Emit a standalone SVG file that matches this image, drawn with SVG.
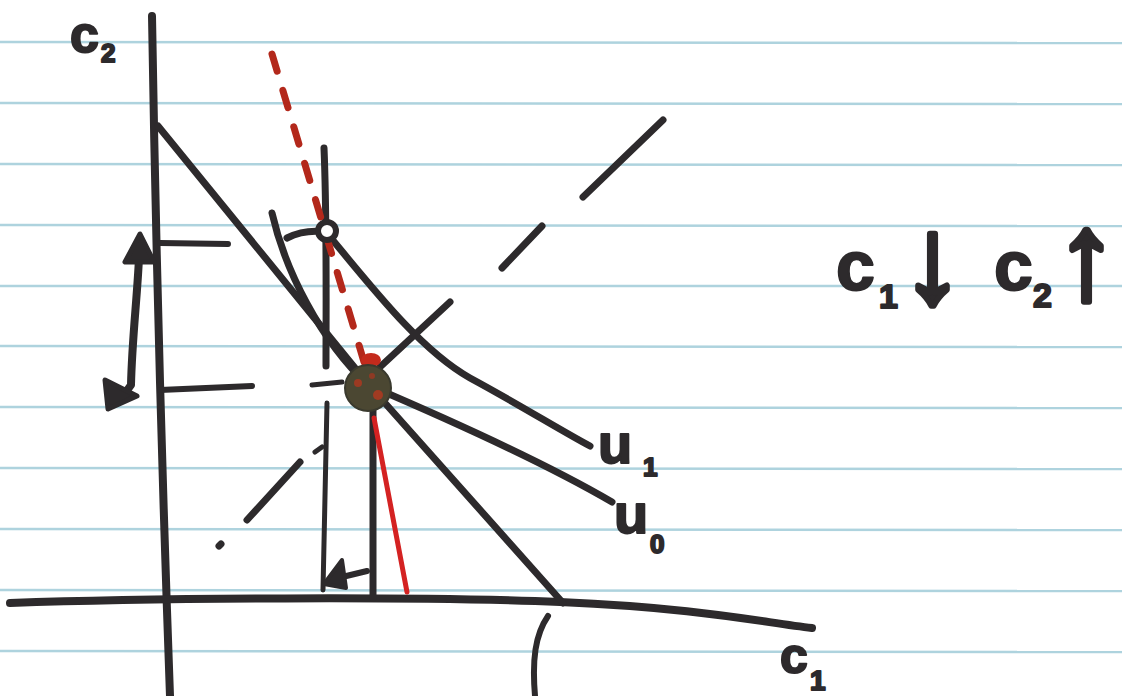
<svg xmlns="http://www.w3.org/2000/svg" width="1122" height="696" viewBox="0 0 1122 696">
<style>
.rule{stroke:#aed3de;stroke-width:2.5}
.ink{fill:none;stroke:#2d2a2c;stroke-linecap:round;stroke-linejoin:round}
.w8{stroke-width:8}.w7{stroke-width:7}.w6{stroke-width:6}.w5{stroke-width:5}
.lbl{font-family:"Liberation Sans","DejaVu Sans",sans-serif;font-weight:bold;fill:#2d2a2c;stroke:#2d2a2c;stroke-width:2;stroke-linejoin:round}
.arr{stroke-width:6}
</style>
<rect width="1122" height="696" fill="#ffffff"/>
<g id="paper">
<line class="rule" x1="0" y1="42" x2="1122" y2="43"/>
<line class="rule" x1="0" y1="103" x2="1122" y2="104"/>
<line class="rule" x1="0" y1="164" x2="1122" y2="165"/>
<line class="rule" x1="0" y1="225" x2="1122" y2="226"/>
<line class="rule" x1="0" y1="286" x2="1122" y2="286"/>
<line class="rule" x1="0" y1="346" x2="1122" y2="347"/>
<line class="rule" x1="0" y1="407" x2="1122" y2="408"/>
<line class="rule" x1="0" y1="468" x2="1122" y2="469"/>
<line class="rule" x1="0" y1="529" x2="1122" y2="530"/>
<line class="rule" x1="0" y1="590" x2="1122" y2="591"/>
<line class="rule" x1="0" y1="651" x2="1122" y2="652"/>
</g>
<g id="axes">
<path class="ink w8" d="M152,16 C155,200 160,420 170,696"/>
<path class="ink w8" d="M10,603 C150,598 420,596 560,602 S760,622 812,628"/>
</g>
<g id="connectors">
<path id="budget" class="ink w7" d="M158,126 L368,384 L563,603"/>
<path id="u0" class="ink w7" d="M272,213 C285,270 320,340 368,385 C450,420 540,460 612,502"/>
<path id="u1" class="ink w7" d="M287,238 Q305,229 326,232 C370,285 420,350 470,378 C520,405 560,430 590,446"/>
<path class="ink w7" d="M324,148 C327,220 326,300 326,366"/>
<path class="ink w6" d="M160,243 L228,244"/>
<path class="ink w6" d="M160,390 L252,386"/>
<path class="ink w5" d="M312,385 L342,382"/>
<path class="ink w7" d="M373,405 L373,598"/>
<path class="ink w5" d="M327,403 C325,480 324,540 323,590"/>
<path class="ink w5" d="M315,452 L322,447"/>
<path class="ink w6" d="M367,571 L338,578"/>
<path d="M342,560 L324,584 L346,588 Z" fill="#2d2a2c" stroke="#2d2a2c" stroke-width="4" stroke-linejoin="round"/>
<path class="ink w7" d="M219,546 L221,544"/>
<path class="ink w7" d="M247,520 L300,462"/>
<path class="ink w7" d="M380,367 L450,302"/>
<path class="ink w7" d="M502,268 L542,226"/>
<path class="ink w7" d="M583,197 L663,120"/>
<path class="ink w6" d="M548,616 C535,635 532,660 535,696"/>
<path fill="none" stroke="#b3281b" stroke-width="7" stroke-linecap="round" stroke-dasharray="18 20" d="M272,54 L364,362"/>
<path fill="none" stroke="#d42222" stroke-width="5" stroke-linecap="round" d="M374,418 L407,592"/>
<path class="ink w8" d="M139,258 C137,300 132,340 131,385 L120,400"/>
<path d="M140,234 L125,262 L154,262 Z" fill="#2d2a2c" stroke="#2d2a2c" stroke-width="5" stroke-linejoin="round"/>
<path d="M105,380 L108,409 L137,396 Z" fill="#2d2a2c" stroke="#2d2a2c" stroke-width="5" stroke-linejoin="round"/>
</g>
<g id="point-new">
<circle cx="327" cy="231" r="9" fill="#ffffff" stroke="#2d2a2c" stroke-width="6"/>
</g>
<g id="point-old">
<ellipse cx="371" cy="360" rx="10" ry="7" fill="#c42a1c"/>
<circle cx="368" cy="388" r="23" fill="#4b4732" stroke="#3a3a2e" stroke-width="2"/>
<circle cx="358" cy="383" r="4" fill="#9c3a22"/>
<circle cx="378" cy="395" r="5" fill="#a13b22"/>
<circle cx="372" cy="376" r="3" fill="#8e3a24"/>
</g>
<g id="labels">
<text class="lbl"><tspan x="70" y="52" font-size="52">c</tspan><tspan x="101" y="62" font-size="26">2</tspan></text>
<text class="lbl"><tspan x="780" y="673" font-size="50">c</tspan><tspan x="810" y="690" font-size="28">1</tspan></text>
<text class="lbl"><tspan x="598" y="463" font-size="56">u</tspan><tspan x="643" y="476" font-size="26">1</tspan></text>
<text class="lbl"><tspan x="614" y="533" font-size="56">u</tspan><tspan x="650" y="553" font-size="26">0</tspan></text>
<text class="lbl"><tspan x="836" y="290" font-size="70">c</tspan><tspan x="879" y="308" font-size="34">1</tspan><tspan class="arr" x="902" y="302" font-size="122">↓</tspan><tspan x="994" y="290" font-size="70">c</tspan><tspan x="1033" y="307" font-size="34">2</tspan><tspan class="arr" x="1056" y="298" font-size="122">↑</tspan></text>
</g>
</svg>
